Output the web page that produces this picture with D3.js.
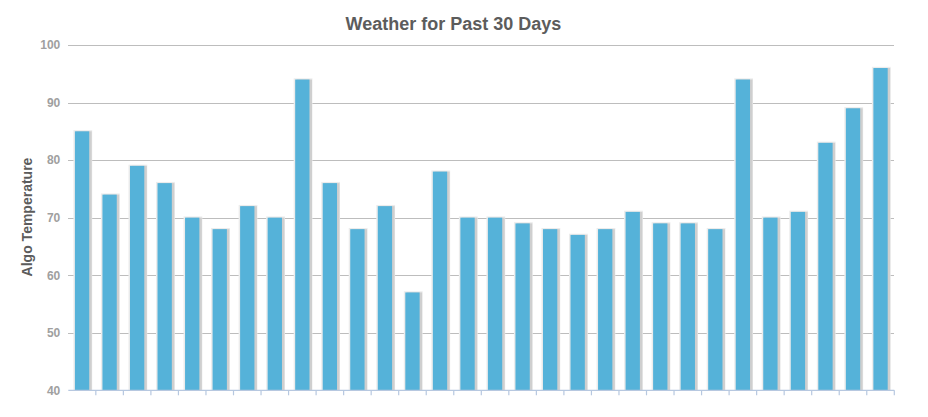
<!DOCTYPE html>
<html>
<head>
<meta charset="utf-8">
<script src="https://cdn.jsdelivr.net/npm/d3@7"></script>
<style>
  html, body { margin: 0; padding: 0; background: #fff; }
  svg { display: block; font-family: "Liberation Sans", Arial, sans-serif; }
</style>
</head>
<body>
<svg id="chart" width="928" height="417"></svg>
<script>
const title = "Weather for Past 30 Days";
const yTitle = "Algo Temperature";
const days = d3.range(1, 31).map(String);
const temps = [85, 74, 79, 76, 70, 68, 72, 70, 94, 76, 68, 72, 57, 78, 70, 70, 69, 68, 67, 68, 71, 69, 69, 68, 94, 70, 71, 83, 89, 96];
const yTicks = [40, 50, 60, 70, 80, 90, 100];

const svg = d3.select("#chart");
const plotLeft = 68.3, plotRight = 894.3, plotTop = 45, plotBottom = 390.3;

const x = d3.scaleBand().domain(days).range([plotLeft, plotRight]).paddingInner(0.48).paddingOuter(0.24);
const y = d3.scaleLinear().domain([40, 100]).range([plotBottom, plotTop]);

// gridlines + labels
const yAxis = d3.axisLeft(y).tickValues(yTicks).tickSize(-(plotRight - plotLeft)).tickPadding(8);
const gy = svg.append("g").attr("transform", `translate(${plotLeft},0)`).call(yAxis);
gy.select(".domain").remove();
gy.selectAll(".tick line").attr("stroke", "#bdbdbd").attr("stroke-width", 1)
  .attr("shape-rendering", "crispEdges")
  .filter(d => d === 40).remove();
gy.selectAll(".tick text").attr("fill", "#a0a0a0").attr("font-size", 12).attr("font-weight", "bold")
  .attr("font-family", "Liberation Sans, Arial, sans-serif");

// bars
const bars = svg.append("g");
const data = days.map((d, i) => ({ day: d, v: temps[i] }));
const g = bars.selectAll("g").data(data).join("g");
// outer light border
g.append("rect")
  .attr("x", d => x(d.day) - 1.5)
  .attr("y", d => y(d.v) - 1.2)
  .attr("width", x.bandwidth() + 4.5)
  .attr("height", d => plotBottom - y(d.v) + 1.2)
  .attr("fill", "#ececec");
// shadow
g.append("rect")
  .attr("x", d => x(d.day) + 1.5)
  .attr("y", d => y(d.v))
  .attr("width", x.bandwidth() + 1)
  .attr("height", d => plotBottom - y(d.v))
  .attr("fill", "#cfcfcf");
// main bar
g.append("rect")
  .attr("x", d => x(d.day))
  .attr("y", d => y(d.v))
  .attr("width", x.bandwidth())
  .attr("height", d => plotBottom - y(d.v))
  .attr("fill", "#55b2d9");

// x axis
const step = x.step();
const xAxisG = svg.append("g");
xAxisG.append("line")
  .attr("x1", plotLeft).attr("x2", plotRight)
  .attr("y1", plotBottom).attr("y2", plotBottom)
  .attr("stroke", "#b7c8e0").attr("stroke-width", 1.2);
xAxisG.selectAll("line.tk").data(days).join("line").attr("class", "tk")
  .attr("x1", d => x(d) + x.bandwidth() / 2 + step / 2)
  .attr("x2", d => x(d) + x.bandwidth() / 2 + step / 2)
  .attr("y1", plotBottom).attr("y2", plotBottom + 5)
  .attr("stroke", "#b7c8e0").attr("stroke-width", 1.2);

// title
svg.append("text")
  .attr("x", 453.5).attr("y", 30)
  .attr("text-anchor", "middle")
  .attr("font-size", 18).attr("font-weight", "bold")
  .attr("fill", "#5c5c5c")
  .text(title);

// y title
svg.append("text")
  .attr("transform", `translate(31.5,${217}) rotate(-90)`)
  .attr("text-anchor", "middle")
  .attr("font-size", 14).attr("font-weight", "bold")
  .attr("fill", "#5c5c5c")
  .text(yTitle);
</script>
</body>
</html>
